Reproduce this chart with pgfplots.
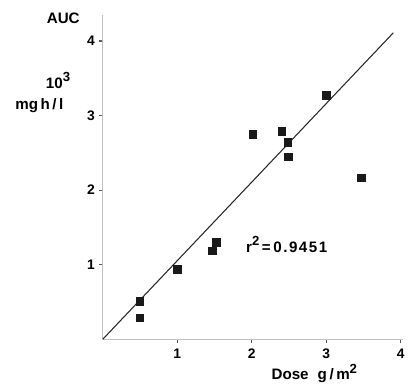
\documentclass[border=0pt]{standalone}
\usepackage{pgfplots}
\pgfplotsset{compat=1.18}
\usepackage{fontspec}
\setmainfont{Liberation Sans}
\newfontfamily\lsfont[LetterSpace=10]{Liberation Sans}
\newcommand{\supr}[1]{\raisebox{0.42em}{\fontsize{10}{10}\selectfont\bfseries #1}}
\begin{document}
\begin{tikzpicture}
\begin{axis}[
  x=56.55pt, y=56.6pt,
  xmin=0, xmax=4.03, ymin=0, ymax=4.35,
  axis x line=bottom, axis y line=left,
  axis line style={gray!50, line width=1.1pt, -},
  xtick={1,2,3,4}, ytick={1,2,3,4},
  tick style={gray!70!black, line width=0.8pt},
  tick align=outside,
  major tick length=2.5pt,
  /pgf/number format/assume math mode=true,
  ticklabel style={font=\fontsize{10.5}{12}\selectfont\bfseries},
  xticklabel style={yshift=-1pt},
  clip=false,
]
\path (axis cs:-1.379,-0.603) rectangle (axis cs:4.045,4.55);
\addplot[black!85, line width=0.8pt] coordinates {(0,0) (3.90,4.11)};
\addplot[only marks, mark=square*, mark size=2.8pt, black!90] coordinates {
(0.50,0.51) (0.50,0.29) (1.00,0.94) (1.47,1.19) (1.525,1.30)
(2.01,2.75) (2.40,2.79) (2.48,2.64) (2.49,2.45) (3.00,3.27) (3.47,2.17)
};
\node[font=\fontsize{11.5}{13}\selectfont\bfseries] at (axis cs:-0.53,4.30) {AUC};
\node[font=\fontsize{11.5}{13}\selectfont\bfseries] at (axis cs:-0.60,3.47) {10\supr{3}};
\node[font=\fontsize{11.5}{13}\selectfont\bfseries] at (axis cs:-0.85,3.14) {mg\,h\,/\,l};
\node[font=\fontsize{11.5}{13}\selectfont\lsfont\bfseries] at (axis cs:2.47,1.27) {r\supr{2}\,=\,0.9451};
\node[font=\fontsize{11.5}{13}\selectfont\bfseries] at (axis cs:2.84,-0.46) {Dose\hspace{0.6em}g\,/\,m\supr{2}};
\end{axis}
\end{tikzpicture}
\end{document}
